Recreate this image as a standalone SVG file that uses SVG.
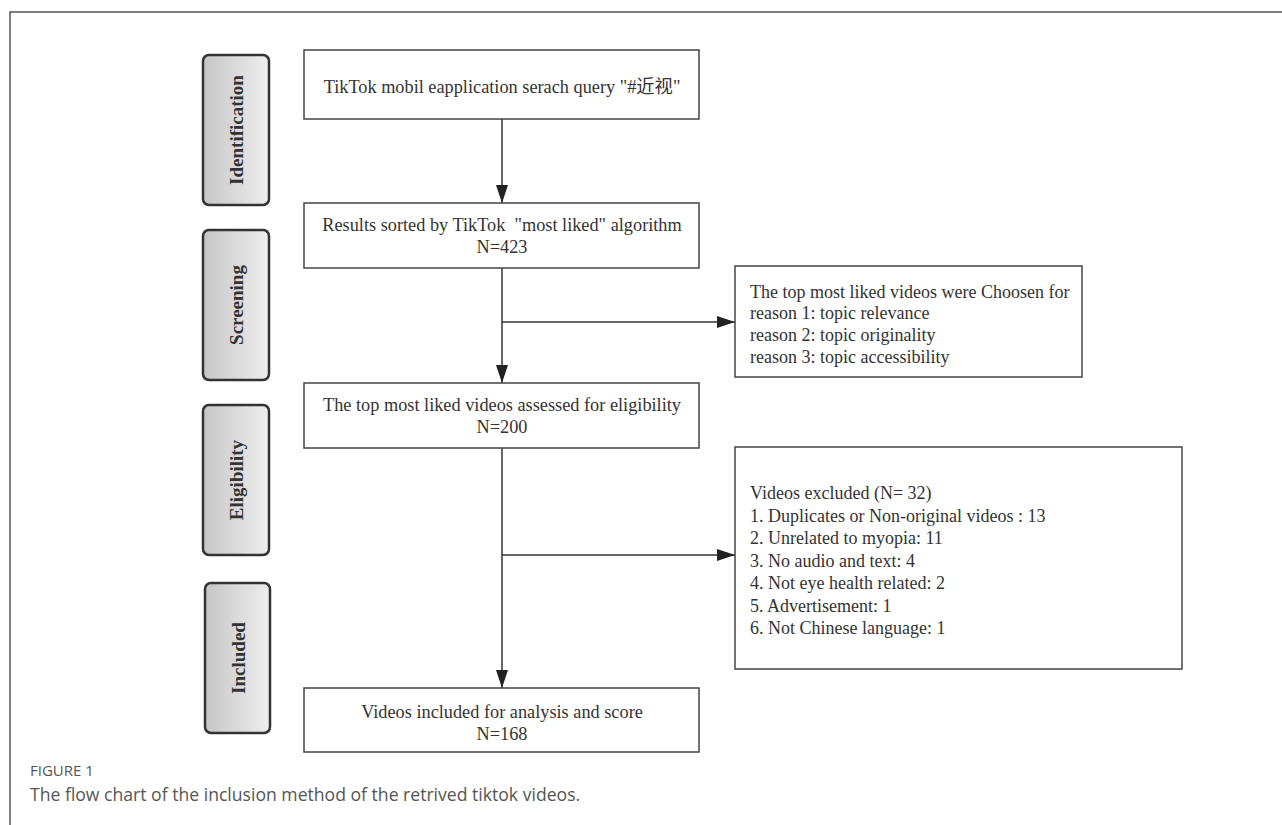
<svg xmlns="http://www.w3.org/2000/svg" width="1282" height="825" viewBox="0 0 1282 825">
<style>
.box{fill:#fff;stroke:#444;stroke-width:1.5}
.side{fill:url(#g);stroke:#333;stroke-width:2.5}
.t{font-family:"Liberation Serif","Noto Sans CJK SC",serif;font-size:18.3px;fill:#333}
.t6{font-size:18px}
.c{text-anchor:middle}
.s{font-family:"Liberation Serif",serif;font-size:19px;font-weight:bold;fill:#333;text-anchor:middle}
.ln{stroke:#333;stroke-width:1.5;fill:none}
.cap{font-family:"Open Sans","Liberation Sans",sans-serif;fill:#555}
</style>
<defs>
<linearGradient id="g" x1="0" y1="0" x2="1" y2="0">
<stop offset="0" stop-color="#c6c6c6"/>
<stop offset="1" stop-color="#eeeeee"/>
</linearGradient>
<marker id="a" markerUnits="userSpaceOnUse" markerWidth="18" markerHeight="12" refX="18" refY="6" orient="auto">
<path d="M0,0 L18,6 L0,12 z" fill="#222"/>
</marker>
</defs>
<rect width="1282" height="825" fill="#fff"/>
<path d="M10,825 V12 H1282" fill="none" stroke="#555" stroke-width="1.5"/>

<g id="side-identification"><rect class="side" x="203" y="55" width="66" height="150" rx="6"/><text class="s" transform="translate(243,130) rotate(-90)">Identification</text></g>
<g id="side-screening"><rect class="side" x="203" y="230" width="66" height="150" rx="6"/><text class="s" transform="translate(243,305) rotate(-90)">Screening</text></g>
<g id="side-eligibility"><rect class="side" x="203" y="405" width="66" height="150" rx="6"/><text class="s" transform="translate(243,480) rotate(-90)">Eligibility</text></g>
<g id="side-included"><rect class="side" x="205" y="583" width="65" height="150" rx="6"/><text class="s" transform="translate(245,658) rotate(-90)">Included</text></g>

<g id="connectors">
<line class="ln" x1="502" y1="119" x2="502" y2="203" marker-end="url(#a)"/>
<line class="ln" x1="502" y1="268" x2="502" y2="383" marker-end="url(#a)"/>
<line class="ln" x1="502" y1="322" x2="735" y2="322" marker-end="url(#a)"/>
<line class="ln" x1="502" y1="448" x2="502" y2="688" marker-end="url(#a)"/>
<line class="ln" x1="502" y1="555" x2="735" y2="555" marker-end="url(#a)"/>
</g>

<g id="box-search"><rect class="box" x="304" y="50" width="395" height="69"/><text class="t c" x="502" y="93">TikTok mobil eapplication serach query "#近视"</text></g>
<g id="box-sorted"><rect class="box" x="304" y="203" width="395" height="65"/><text class="t c" x="502" y="231" xml:space="preserve">Results sorted by TikTok  "most liked" algorithm</text><text class="t c" x="502" y="253">N=423</text></g>
<g id="box-chosen"><rect class="box" x="735" y="266" width="347" height="111"/>
<text class="t t6" x="750" y="298">The top most liked videos were Choosen for</text>
<text class="t t6" x="750" y="319">reason 1: topic relevance</text>
<text class="t t6" x="750" y="341">reason 2: topic originality</text>
<text class="t t6" x="750" y="363">reason 3: topic accessibility</text></g>
<g id="box-assessed"><rect class="box" x="304" y="383" width="395" height="65"/><text class="t c" x="502" y="411">The top most liked videos assessed for eligibility</text><text class="t c" x="502" y="433">N=200</text></g>
<g id="box-excluded"><rect class="box" x="735" y="447" width="447" height="222"/>
<text class="t t6" x="750" y="499">Videos excluded (N= 32)</text>
<text class="t t6" x="750" y="522">1. Duplicates or Non-original videos : 13</text>
<text class="t t6" x="750" y="544">2. Unrelated to myopia: 11</text>
<text class="t t6" x="750" y="567">3. No audio and text: 4</text>
<text class="t t6" x="750" y="589">4. Not eye health related: 2</text>
<text class="t t6" x="750" y="612">5. Advertisement: 1</text>
<text class="t t6" x="750" y="634">6. Not Chinese language: 1</text></g>
<g id="box-included"><rect class="box" x="304" y="688" width="395" height="64"/><text class="t c" x="502" y="718">Videos included for analysis and score</text><text class="t c" x="502" y="740">N=168</text></g>

<text class="cap" x="30" y="776" font-size="15" font-weight="500" fill="#666">FIGURE 1</text>
<text class="cap" x="30" y="801" font-size="17.6">The flow chart of the inclusion method of the retrived tiktok videos.</text>
</svg>
